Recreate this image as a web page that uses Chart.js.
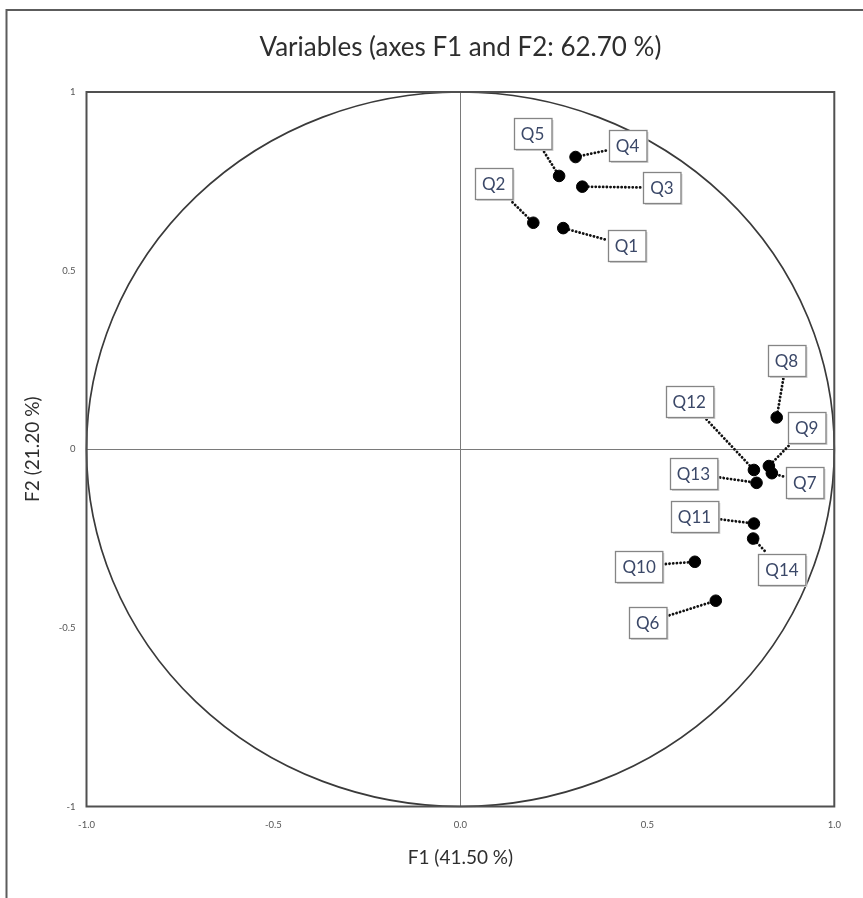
<!DOCTYPE html>
<html>
<head>
<meta charset="utf-8">
<script src="https://cdn.jsdelivr.net/npm/chart.js@4/dist/chart.umd.min.js"></script>
<style>
  html, body { margin: 0; padding: 0; background: #fff; }
  canvas { display: block; }
</style>
</head>
<body>
<canvas id="c" width="863" height="898"></canvas>
<script>
// ---- data ----
const variableNames = ['Q1','Q2','Q3','Q4','Q5','Q6','Q7','Q8','Q9','Q10','Q11','Q12','Q13','Q14'];
const f1Values = [0.275, 0.195, 0.326, 0.308, 0.264, 0.683, 0.833, 0.846, 0.825, 0.627, 0.785, 0.785, 0.792, 0.783];
const f2Values = [0.619, 0.634, 0.735, 0.818, 0.765, -0.424, -0.067, 0.089, -0.047, -0.315, -0.208, -0.058, -0.094, -0.250];
// label anchor positions (in F1/F2 units)
const labelF1 = [0.444, 0.089, 0.539, 0.447, 0.193, 0.501, 0.921, 0.872, 0.926, 0.478, 0.626, 0.612, 0.623, 0.860];
const labelF2 = [0.571, 0.743, 0.732, 0.849, 0.884, -0.484, -0.093, 0.249, 0.061, -0.327, -0.187, 0.135, -0.068, -0.336];
const xTickValues = [-1.0, -0.5, 0.0, 0.5, 1.0];
const yTickValues = [1, 0.5, 0, -0.5, -1];
const chartTitle = 'Variables (axes F1 and F2: 62.70 %)';
const xTitle = 'F1 (41.50 %)';
const yTitle = 'F2 (21.20 %)';

const FONT = 'Lato, "Open Sans", sans-serif';
const LABEL_FONT = '17px ' + FONT;

const overlay = {
  id: 'overlay',
  beforeDraw(chart) {
    const ctx = chart.ctx;
    ctx.save();
    ctx.strokeStyle = '#5c5c5c';
    ctx.lineWidth = 2;
    ctx.beginPath();
    ctx.moveTo(6.5, 898);
    ctx.lineTo(6.5, 10);
    ctx.lineTo(863, 10);
    ctx.stroke();
    ctx.restore();
  },
  beforeDatasetsDraw(chart) {
    const { ctx, scales: { x, y }, chartArea: a } = chart;
    ctx.save();
    // correlation circle (radius 1 in data units)
    const cx = x.getPixelForValue(0), cy = y.getPixelForValue(0);
    const rx = x.getPixelForValue(1) - cx, ry = cy - y.getPixelForValue(1);
    ctx.strokeStyle = '#3a3a3a';
    ctx.lineWidth = 1.7;
    ctx.beginPath();
    ctx.ellipse(cx, cy, rx, ry, 0, 0, Math.PI * 2);
    ctx.stroke();
    // plot frame
    ctx.strokeStyle = '#505050';
    ctx.lineWidth = 2;
    ctx.strokeRect(a.left, a.top, a.right - a.left, a.bottom - a.top);
    // leaders
    ctx.font = LABEL_FONT;
    ctx.strokeStyle = '#111';
    ctx.lineWidth = 2.8;
    ctx.lineCap = 'round';
    ctx.setLineDash([0.1, 3.6]);
    variableNames.forEach((n, i) => {
      const px = x.getPixelForValue(f1Values[i]), py = y.getPixelForValue(f2Values[i]);
      const lx = x.getPixelForValue(labelF1[i]), ly = y.getPixelForValue(labelF2[i]);
      const hw = (ctx.measureText(n).width + 14) / 2 + 3, hh = 15.5 + 3;
      const dx = px - lx, dy = py - ly;
      const t = Math.min(dx !== 0 ? hw / Math.abs(dx) : Infinity, dy !== 0 ? hh / Math.abs(dy) : Infinity);
      if (t >= 1) return;
      ctx.beginPath();
      ctx.moveTo(lx + dx * t, ly + dy * t);
      ctx.lineTo(px, py);
      ctx.stroke();
    });
    ctx.restore();
  },
  afterDatasetsDraw(chart) {
    const { ctx, scales: { x, y } } = chart;
    ctx.save();
    ctx.font = LABEL_FONT;
    ctx.textAlign = 'center';
    ctx.textBaseline = 'middle';
    variableNames.forEach((n, i) => {
      const lx = x.getPixelForValue(labelF1[i]), ly = y.getPixelForValue(labelF2[i]);
      const w = ctx.measureText(n).width + 14, h = 31;
      const l = Math.round(lx - w / 2) + 0.5, t = Math.round(ly - h / 2) + 0.5;
      ctx.fillStyle = '#d0d0d0';
      ctx.fillRect(l + 1.5, t + 1.5, w, h);
      ctx.fillStyle = '#fff';
      ctx.fillRect(l, t, w, h);
      ctx.strokeStyle = '#858585';
      ctx.lineWidth = 1.3;
      ctx.strokeRect(l, t, w, h);
      ctx.fillStyle = '#3b4868';
      ctx.fillText(n, lx, ly + 1);
    });
    ctx.restore();
  }
};

new Chart(document.getElementById('c'), {
  type: 'scatter',
  data: {
    datasets: [{
      data: f1Values.map((v, i) => ({ x: v, y: f2Values[i] })),
      backgroundColor: '#000',
      borderColor: '#000',
      pointRadius: 5.8,
      pointHoverRadius: 5.8
    }]
  },
  options: {
    responsive: false,
    animation: false,
    events: [],
    layout: { padding: { left: 10, right: 28.7, top: 0, bottom: 0 } },
    plugins: {
      legend: { display: false },
      tooltip: { enabled: false },
      title: {
        display: true,
        fullSize: false,
        text: chartTitle,
        color: '#2e2e2e',
        font: { family: FONT, size: 26, weight: 'normal', lineHeight: 1.2 },
        padding: { top: 32, bottom: 28.8 }
      }
    },
    scales: {
      x: {
        type: 'linear',
        min: -1, max: 1,
        afterBuildTicks: s => { s.ticks = xTickValues.map(v => ({ value: v })); },
        afterFit: s => { s.height = 91.5; },
        ticks: {
          color: '#555',
          font: { family: FONT, size: 9.5 },
          padding: 13,
          maxRotation: 0,
          callback: v => Number(v).toFixed(1)
        },
        grid: {
          drawTicks: false,
          color: c => (c.tick && c.tick.value === 0) ? '#7a7a7a' : 'rgba(0,0,0,0)',
          lineWidth: 1
        },
        border: { display: false },
        title: {
          display: true,
          text: xTitle,
          color: '#2e2e2e',
          font: { family: FONT, size: 19 },
          padding: { top: 0, bottom: 29 }
        }
      },
      y: {
        type: 'linear',
        min: -1, max: 1,
        afterBuildTicks: s => { s.ticks = yTickValues.map(v => ({ value: v })); },
        afterFit: s => { s.width = 76.5; },
        ticks: {
          color: '#555',
          font: { family: FONT, size: 9.5 },
          padding: 11,
          callback: v => String(v)
        },
        grid: {
          drawTicks: false,
          color: c => (c.tick && c.tick.value === 0) ? '#7a7a7a' : 'rgba(0,0,0,0)',
          lineWidth: 1
        },
        border: { display: false },
        title: {
          display: true,
          text: yTitle,
          color: '#2e2e2e',
          font: { family: FONT, size: 19 },
          padding: { top: 11.4, bottom: 0 }
        }
      }
    }
  },
  plugins: [overlay]
});
</script>
</body>
</html>
